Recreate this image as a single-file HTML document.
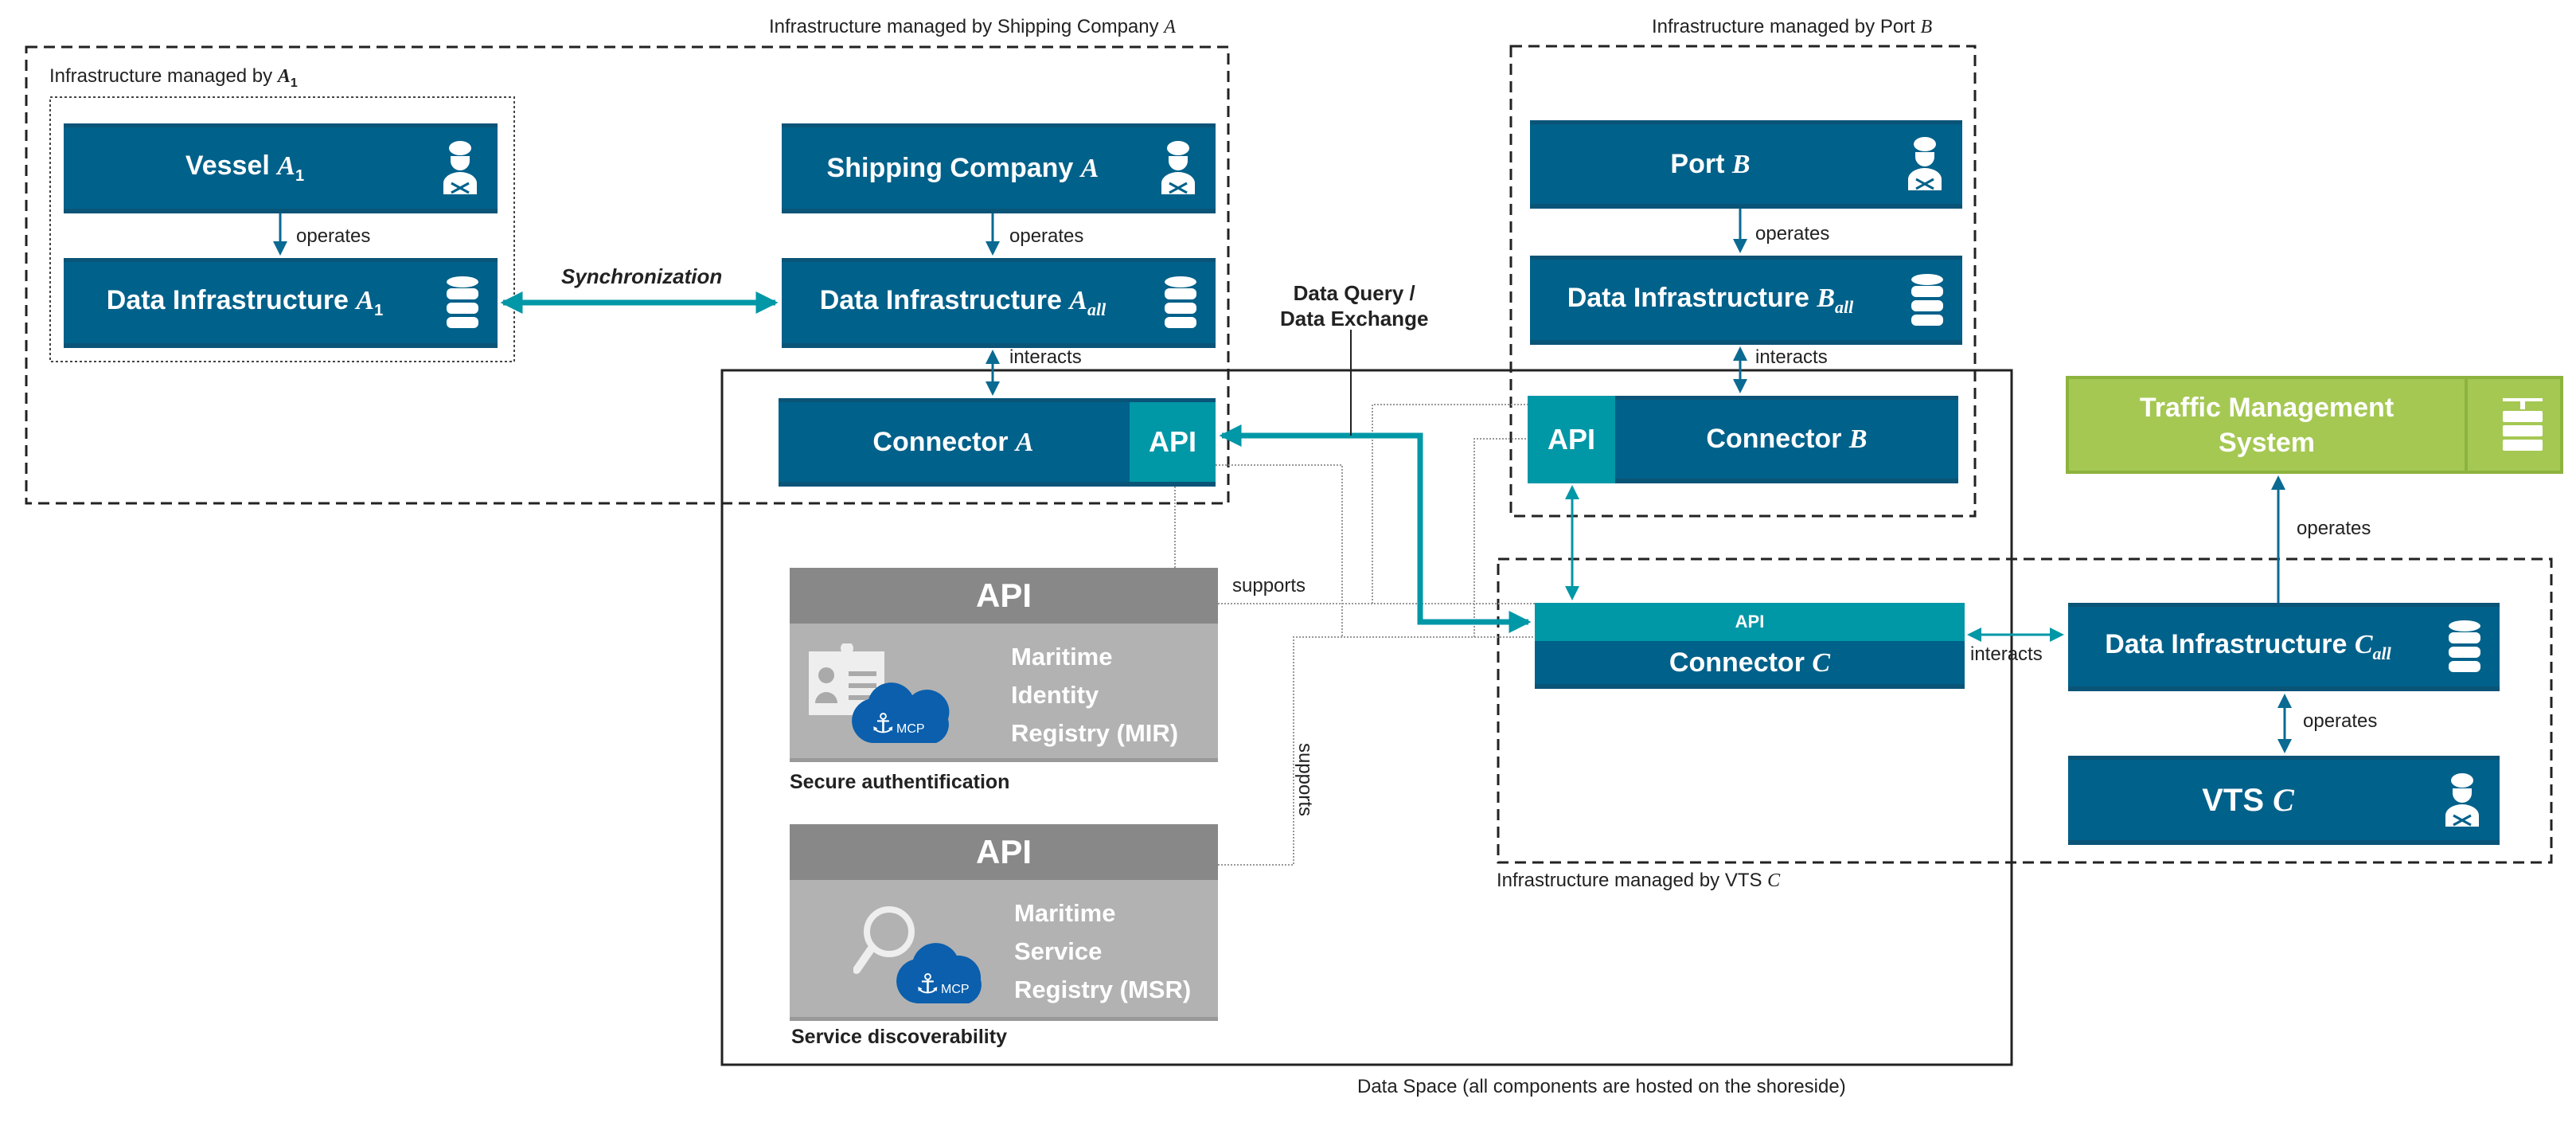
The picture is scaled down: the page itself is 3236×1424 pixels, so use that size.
<!DOCTYPE html>
<html><head><meta charset="utf-8"><style>
*{margin:0;padding:0;box-sizing:border-box}
body{width:3236px;height:1424px;background:#fff;position:relative;overflow:hidden;font-family:"Liberation Sans",sans-serif}
.b{position:absolute;background:#00618a;border-top:5px solid #0a5478;border-bottom:6px solid #0a5478;color:#fff;font-weight:bold;font-size:34px;display:flex;align-items:center}
.b .t{position:absolute;left:0;right:90px;text-align:center}
.lbl{position:absolute;font-size:24px;color:#222;white-space:nowrap}
i.m{font-family:"Liberation Serif",serif;font-style:italic;font-weight:bold}
.ic{position:absolute;right:22px;top:50%;transform:translateY(-50%)}
.g{position:absolute;background:#b2b2b2;border-bottom:5px solid #999}
.g .h{height:70px;background:#888;color:#fff;font-weight:bold;font-size:42px;text-align:center;line-height:70px}
.g .tx{position:absolute;color:#fff;font-weight:bold;font-size:31px;line-height:48px}
</style></head><body>
<svg width="3236" height="1424" style="position:absolute;left:0;top:0">
<defs>
<marker id="ab" markerWidth="6" markerHeight="6" refX="5" refY="3" orient="auto" markerUnits="strokeWidth"><path d="M0,0L6,3L0,6z" fill="#0a6a92"/></marker>
<marker id="at" markerWidth="4" markerHeight="4" refX="3.5" refY="2" orient="auto" markerUnits="strokeWidth"><path d="M0,0L4,2L0,4z" fill="#0097a7"/></marker>
<marker id="at2" markerWidth="6" markerHeight="6" refX="5" refY="3" orient="auto" markerUnits="strokeWidth"><path d="M0,0L6,3L0,6z" fill="#0097a7"/></marker>
</defs>
<!-- group boxes -->
<rect x="33" y="59" width="1510" height="573" fill="none" stroke="#222" stroke-width="3" stroke-dasharray="14,8"/>
<rect x="63" y="122" width="583" height="332" fill="none" stroke="#444" stroke-width="2" stroke-dasharray="3,3"/>
<rect x="1898" y="58" width="583" height="590" fill="none" stroke="#222" stroke-width="3" stroke-dasharray="14,8"/>
<rect x="907" y="465" width="1620" height="872" fill="none" stroke="#222" stroke-width="3"/>
<rect x="1882" y="702" width="1323" height="381" fill="none" stroke="#222" stroke-width="3" stroke-dasharray="14,8"/>
<!-- dotted gray -->
<g fill="none" stroke="#999" stroke-width="2" stroke-dasharray="2,2">
<path d="M1476,611V713"/>
<path d="M1530,758H1928"/>
<path d="M1527,584H1686V800"/>
<path d="M1530,1086H1625V800H1928"/>
<path d="M1724,758V508H1919"/>
<path d="M1852,800V551H1919"/>
</g>
<!-- operates arrows -->
<g stroke="#0a6a92" stroke-width="3" fill="none">
<path d="M352,268V318" marker-end="url(#ab)"/>
<path d="M1247,268V318" marker-end="url(#ab)"/>
<path d="M2186,262V315" marker-end="url(#ab)"/>
<path d="M1247,466V442" marker-end="url(#ab)"/><path d="M1247,460V494" marker-end="url(#ab)"/>
<path d="M2186,466V438" marker-end="url(#ab)"/><path d="M2186,460V491" marker-end="url(#ab)"/>
<path d="M2862,757V600" marker-end="url(#ab)"/>
<path d="M2870,910V874" marker-end="url(#ab)"/><path d="M2870,900V943" marker-end="url(#ab)"/>
</g>
<g stroke="#0097a7" stroke-width="3" fill="none">
<path d="M2530,797H2474" marker-end="url(#at2)"/><path d="M2520,797H2590" marker-end="url(#at2)"/>
<path d="M1975,680V612" marker-end="url(#at2)"/><path d="M1975,670V751" marker-end="url(#at2)"/>
</g>
<!-- teal thick -->
<g stroke="#0097a7" stroke-width="7" fill="none">
<path d="M800,380H632" marker-end="url(#at)"/><path d="M800,380H974" marker-end="url(#at)"/>
<path d="M1784,781V547H1535" marker-end="url(#at)"/>
<path d="M1784,700V781H1920" marker-end="url(#at)"/>
</g>
<path d="M1697,414V547" stroke="#222" stroke-width="2"/>
</svg>

<div class="lbl" style="left:966px;top:20px">Infrastructure managed by Shipping Company <i class="m" style="font-weight:normal">A</i></div>
<div class="lbl" style="left:62px;top:82px">Infrastructure managed by <i class="m">A</i><sub style="font-size:16px;font-weight:bold">1</sub></div>
<div class="lbl" style="left:2075px;top:20px">Infrastructure managed by Port <i class="m" style="font-weight:normal">B</i></div>
<div class="lbl" style="left:1880px;top:1092px">Infrastructure managed by VTS <i class="m" style="font-weight:normal">C</i></div>
<div class="lbl" style="left:1705px;top:1351px">Data Space (all components are hosted on the shoreside)</div>

<div class="lbl" style="left:372px;top:283px">operates</div>
<div class="lbl" style="left:1268px;top:283px">operates</div>
<div class="lbl" style="left:2205px;top:280px">operates</div>
<div class="lbl" style="left:1268px;top:435px">interacts</div>
<div class="lbl" style="left:2205px;top:435px">interacts</div>
<div class="lbl" style="left:2475px;top:808px">interacts</div>
<div class="lbl" style="left:2893px;top:892px">operates</div>
<div class="lbl" style="left:2885px;top:650px">operates</div>
<div class="lbl" style="left:1548px;top:722px">supports</div>
<div class="lbl" style="left:1593px;top:965px;transform:rotate(90deg)">supports</div>
<div class="lbl" style="left:705px;top:332px;font-weight:bold;font-style:italic;font-size:26px">Synchronization</div>
<div class="lbl" style="left:1608px;top:352px;font-weight:bold;font-size:26px;text-align:center;line-height:32px">Data Query /<br>Data Exchange</div>
<div class="lbl" style="left:992px;top:968px;font-weight:bold;font-size:25px">Secure authentification</div>
<div class="lbl" style="left:994px;top:1288px;font-weight:bold;font-size:25px">Service discoverability</div>

<!-- icons templates inline -->
<div class="b" style="left:80px;top:155px;width:545px;height:113px"><div class="t">Vessel <i class="m">A</i><sub style="font-size:20px">1</sub></div>
<svg class="ic" width="50" height="70" viewBox="0 0 50 70"><ellipse cx="25" cy="10" rx="14" ry="9" fill="#fff"/><path d="M13,20h24v6a12,12 0 0 1-24,0z" fill="#fff"/><path d="M4,68v-14a21,14 0 0 1 42,0v14z" fill="#fff"/><path d="M14,54l22,12M36,54l-22,12" stroke="#00618a" stroke-width="3"/></svg></div>
<div class="b" style="left:80px;top:324px;width:545px;height:113px"><div class="t">Data Infrastructure <i class="m">A</i><sub style="font-size:20px">1</sub></div>
<svg class="ic" width="44" height="68" viewBox="0 0 44 68"><g fill="#fff"><ellipse cx="22" cy="8" rx="20" ry="7"/><rect x="2" y="16" width="40" height="14" rx="6"/><rect x="2" y="34" width="40" height="14" rx="6"/><rect x="2" y="52" width="40" height="14" rx="6"/></g></svg></div>
<div class="b" style="left:982px;top:155px;width:545px;height:113px"><div class="t">Shipping Company <i class="m">A</i></div>
<svg class="ic" width="50" height="70" viewBox="0 0 50 70"><ellipse cx="25" cy="10" rx="14" ry="9" fill="#fff"/><path d="M13,20h24v6a12,12 0 0 1-24,0z" fill="#fff"/><path d="M4,68v-14a21,14 0 0 1 42,0v14z" fill="#fff"/><path d="M14,54l22,12M36,54l-22,12" stroke="#00618a" stroke-width="3"/></svg></div>
<div class="b" style="left:982px;top:324px;width:545px;height:113px"><div class="t">Data Infrastructure <i class="m">A<sub style="font-size:22px">all</sub></i></div>
<svg class="ic" width="44" height="68" viewBox="0 0 44 68"><g fill="#fff"><ellipse cx="22" cy="8" rx="20" ry="7"/><rect x="2" y="16" width="40" height="14" rx="6"/><rect x="2" y="34" width="40" height="14" rx="6"/><rect x="2" y="52" width="40" height="14" rx="6"/></g></svg></div>
<div class="b" style="left:978px;top:500px;width:549px;height:111px"><div class="t" style="right:110px">Connector <i class="m">A</i></div>
<div style="position:absolute;right:0;top:0;bottom:0;width:108px;background:#0097a7;text-align:center;line-height:100px;font-size:36px">API</div></div>

<div class="b" style="left:1922px;top:151px;width:543px;height:111px"><div class="t">Port <i class="m">B</i></div>
<svg class="ic" width="50" height="70" viewBox="0 0 50 70"><ellipse cx="25" cy="10" rx="14" ry="9" fill="#fff"/><path d="M13,20h24v6a12,12 0 0 1-24,0z" fill="#fff"/><path d="M4,68v-14a21,14 0 0 1 42,0v14z" fill="#fff"/><path d="M14,54l22,12M36,54l-22,12" stroke="#00618a" stroke-width="3"/></svg></div>
<div class="b" style="left:1922px;top:321px;width:543px;height:112px"><div class="t">Data Infrastructure <i class="m">B<sub style="font-size:22px">all</sub></i></div>
<svg class="ic" width="44" height="68" viewBox="0 0 44 68"><g fill="#fff"><ellipse cx="22" cy="8" rx="20" ry="7"/><rect x="2" y="16" width="40" height="14" rx="6"/><rect x="2" y="34" width="40" height="14" rx="6"/><rect x="2" y="52" width="40" height="14" rx="6"/></g></svg></div>
<div class="b" style="left:1919px;top:497px;width:541px;height:110px"><div class="t" style="left:110px;right:0">Connector <i class="m">B</i></div>
<div style="position:absolute;left:0;top:-5px;bottom:-6px;width:110px;background:#0097a7;text-align:center;line-height:110px;font-size:36px">API</div></div>

<div style="position:absolute;left:2595px;top:472px;width:625px;height:123px;background:#a5c853;border:4px solid #8db33f;color:#fff;font-weight:bold;font-size:34px">
<div style="position:absolute;left:0;width:497px;top:14px;text-align:center;line-height:44px">Traffic Management<br>System</div>
<div style="position:absolute;left:497px;top:0;bottom:0;border-left:4px solid #8db33f;width:120px"></div>
<svg style="position:absolute;right:22px;top:22px" width="50" height="70" viewBox="0 0 50 70"><g fill="#fff"><rect x="0" y="2" width="50" height="4"/><rect x="22" y="6" width="6" height="10"/><rect x="0" y="18" width="50" height="14" rx="2"/><rect x="0" y="36" width="50" height="14" rx="2"/><rect x="0" y="54" width="50" height="14" rx="2"/></g></svg></div>

<div class="b" style="left:1928px;top:757px;width:540px;height:108px;border-top:0"><div style="position:absolute;left:0;right:0;top:0;height:48px;background:#0097a7;text-align:center;line-height:48px;font-size:22px">API</div><div class="t" style="right:0;top:56px">Connector <i class="m">C</i></div></div>
<div class="b" style="left:2598px;top:757px;width:542px;height:111px"><div class="t">Data Infrastructure <i class="m">C<sub style="font-size:22px">all</sub></i></div>
<svg class="ic" width="44" height="68" viewBox="0 0 44 68"><g fill="#fff"><ellipse cx="22" cy="8" rx="20" ry="7"/><rect x="2" y="16" width="40" height="14" rx="6"/><rect x="2" y="34" width="40" height="14" rx="6"/><rect x="2" y="52" width="40" height="14" rx="6"/></g></svg></div>
<div class="b" style="left:2598px;top:949px;width:542px;height:112px;font-size:40px"><div class="t">VTS <i class="m">C</i></div>
<svg class="ic" width="50" height="70" viewBox="0 0 50 70"><ellipse cx="25" cy="10" rx="14" ry="9" fill="#fff"/><path d="M13,20h24v6a12,12 0 0 1-24,0z" fill="#fff"/><path d="M4,68v-14a21,14 0 0 1 42,0v14z" fill="#fff"/><path d="M14,54l22,12M36,54l-22,12" stroke="#00618a" stroke-width="3"/></svg></div>

<div class="g" style="left:992px;top:713px;width:538px;height:244px"><div class="h">API</div>
<svg style="position:absolute;left:24px;top:95px" width="180" height="130" viewBox="0 0 180 130"><rect x="0" y="10" width="95" height="80" fill="#eee"/><circle cx="48" cy="6" r="8" fill="#eee"/><circle cx="22" cy="40" r="10" fill="#aaa"/><path d="M8,75a14,14 0 0 1 28,0z" fill="#aaa"/><rect x="50" y="35" width="35" height="6" fill="#aaa"/><rect x="50" y="50" width="35" height="6" fill="#aaa"/><rect x="50" y="65" width="35" height="6" fill="#aaa"/><path d="M80,125a28,28 0 0 1 -5,-55a30,30 0 0 1 55,-5a28,28 0 0 1 45,30a25,25 0 0 1 -15,30z" fill="#0b5fad"/><text x="110" y="112" fill="#fff" font-size="16" font-family="Liberation Sans">MCP</text><text x="78" y="112" fill="#fff" font-size="34" font-family="DejaVu Sans">⚓</text></svg>
<div class="tx" style="left:278px;top:88px">Maritime<br>Identity<br>Registry (MIR)</div></div>
<div class="g" style="left:992px;top:1035px;width:538px;height:247px"><div class="h">API</div>
<svg style="position:absolute;left:80px;top:95px" width="170" height="140" viewBox="0 0 170 140"><circle cx="45" cy="40" r="28" fill="none" stroke="#eee" stroke-width="8"/><path d="M22,62L4,88" stroke="#eee" stroke-width="10" stroke-linecap="round"/><path d="M80,130a28,28 0 0 1 -5,-55a30,30 0 0 1 55,-5a28,28 0 0 1 30,30a25,25 0 0 1 -15,30z" fill="#0b5fad"/><text x="110" y="117" fill="#fff" font-size="16" font-family="Liberation Sans">MCP</text><text x="78" y="117" fill="#fff" font-size="34" font-family="DejaVu Sans">⚓</text></svg>
<div class="tx" style="left:282px;top:88px">Maritime<br>Service<br>Registry (MSR)</div></div>
</body></html>
